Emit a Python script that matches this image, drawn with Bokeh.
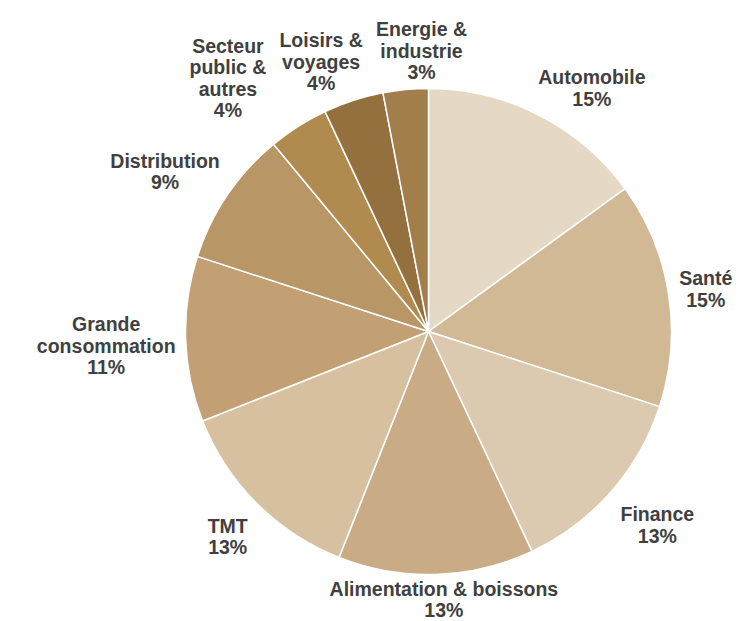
import math
from bokeh.plotting import figure
from bokeh.models import ColumnDataSource, Range1d
from bokeh.embed import file_html
from bokeh.resources import INLINE
from bokeh.core.properties import value

# ---- data ----
categories = ["Automobile", "Santé", "Finance", "Alimentation & boissons", "TMT",
              "Grande consommation", "Distribution", "Secteur public & autres",
              "Loisirs & voyages", "Energie & industrie"]
label_text = ["Automobile", "Santé", "Finance", "Alimentation & boissons", "TMT",
              "Grande\nconsommation", "Distribution", "Secteur\npublic &\nautres",
              "Loisirs &\nvoyages", "Energie &\nindustrie"]
shares = [15, 15, 13, 13, 13, 11, 9, 4, 4, 3]
colors = ["#E5D8C4", "#D1B995", "#DCCAB0", "#C9AC85", "#D6C09F",
          "#C2A074", "#B89666", "#B08A4F", "#94703F", "#A27E4A"]

# ---- layout ----
W, H = 740, 621
cx, cy = 428, H - 331
R = 243
FONT_PX = 19.5
LINE_PX = 22
GAP = 10
PAD = 8
BASELINE_SHIFT = 4


def char_w(c):
    if c in "iltfjr ,.'":
        return 0.31
    if c in "mwMW%&":
        return 0.85
    if c.isupper():
        return 0.70
    if c.isdigit():
        return 0.556
    return 0.60


def text_w(s):
    return max(sum(char_w(c) for c in line) for line in s.split("\n")) * FONT_PX


def clip(v):
    return max(-1.0, min(1.0, v))


total = float(sum(shares))
starts, ends = [], []
boxes = []
cum = 0.0
for name, txt, s in zip(categories, label_text, shares):
    f0 = cum / total
    f1 = (cum + s) / total
    cum += s
    starts.append(math.pi / 2 - 2 * math.pi * f1)
    ends.append(math.pi / 2 - 2 * math.pi * f0)
    a = 2 * math.pi * (f0 + f1) / 2  # clockwise from top
    full = txt + "\n" + f"{s}%"
    n_lines = full.count("\n") + 1
    w = text_w(full) / 2
    h = n_lines * LINE_PX / 2
    ra = R + GAP
    x = cx + ra * math.sin(a) + w * clip(2 * math.sin(a))
    y = cy + ra * math.cos(a) + h * clip(2 * math.cos(a))
    boxes.append([x, y, w, h, full])

# resolve overlaps between neighbouring labels by pushing them apart sideways
for _ in range(200):
    moved = False
    n = len(boxes)
    for i in range(n):
        j = (i + 1) % n
        bi, bj = boxes[i], boxes[j]
        if abs(bi[1] - bj[1]) >= bi[3] + bj[3]:
            continue
        ov = (bi[2] + bj[2] + PAD) - abs(bi[0] - bj[0])
        if ov > 0.5:
            sgn = 1 if bi[0] >= bj[0] else -1
            bi[0] += sgn * ov / 2
            bj[0] -= sgn * ov / 2
            moved = True
    if not moved:
        break

lx, ly, ltxt = [], [], []
for x, y, w, h, full in boxes:
    y = max(h, min(H - h, y - BASELINE_SHIFT))
    lx.append(x)
    ly.append(y)
    ltxt.append(full)

src = ColumnDataSource(dict(start=starts, end=ends, color=colors, name=categories))
lab = ColumnDataSource(dict(x=lx, y=ly, text=ltxt))

p = figure(width=W, height=H, x_range=Range1d(0, W), y_range=Range1d(0, H),
           output_backend="svg", toolbar_location=None, min_border=0)
p.axis.visible = False
p.grid.visible = False
p.outline_line_color = None
p.background_fill_color = "white"
p.border_fill_color = "white"

p.wedge(x=cx, y=cy, radius=R, start_angle="start", end_angle="end",
        fill_color="color", line_color="white", line_width=1.5, source=src)

p.text(x="x", y="y", text="text", source=lab, text_align="center",
       text_baseline="middle", text_font=value("Liberation Sans"),
       text_font_style="bold", text_font_size=f"{FONT_PX}px",
       text_color="#404040", text_line_height=0.98)

open("out.html", "w").write(file_html(p, INLINE))
